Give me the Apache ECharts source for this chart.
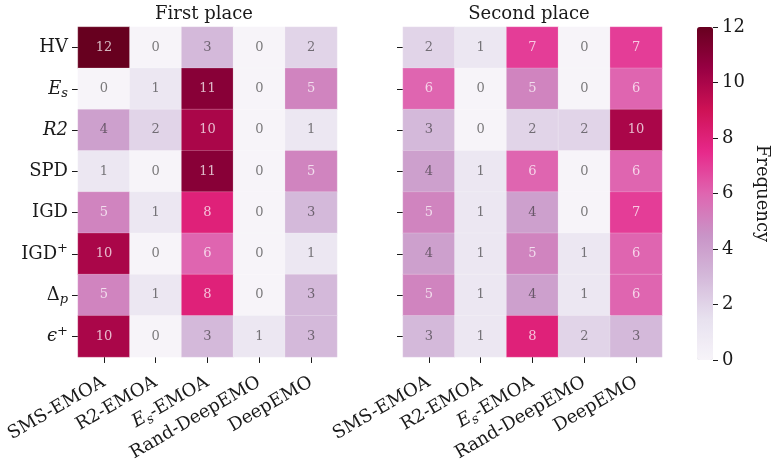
<!DOCTYPE html>
<html>
<head>
<meta charset="utf-8">
<script src="https://cdn.jsdelivr.net/npm/echarts@6/dist/echarts.min.js"></script>
<style>
  html, body { margin: 0; padding: 0; background: #fff; }
  #chart { width: 771px; height: 464px; }
</style>
</head>
<body>
<div id="chart"></div>
<script>
// Algorithms (columns) and quality indicators (rows)
const algorithms = ['SMS-EMOA', 'R2-EMOA', 'Es-EMOA', 'Rand-DeepEMO', 'DeepEMO'];
const indicators = ['HV', 'Es', 'R2', 'SPD', 'IGD', 'IGD+', 'Dp', 'eps+'];

// How often each algorithm ranked first, per indicator (rows follow `indicators`)
const firstPlace = [
  [12, 0, 3, 0, 2],
  [0, 1, 11, 0, 5],
  [4, 2, 10, 0, 1],
  [1, 0, 11, 0, 5],
  [5, 1, 8, 0, 3],
  [10, 0, 6, 0, 1],
  [5, 1, 8, 0, 3],
  [10, 0, 3, 1, 3]
];

// How often each algorithm ranked second, per indicator
const secondPlace = [
  [2, 1, 7, 0, 7],
  [6, 0, 5, 0, 6],
  [3, 0, 2, 2, 10],
  [4, 1, 6, 0, 6],
  [5, 1, 4, 0, 7],
  [4, 1, 5, 1, 6],
  [5, 1, 4, 1, 6],
  [3, 1, 8, 2, 3]
];

const colorbarTicks = [0, 2, 4, 6, 8, 10, 12];
const panelTitles = ['First place', 'Second place'];
const colorbarTitle = 'Frequency';

// PuRd colour ramp, low to high
const puRd = ['#f7f4f9', '#e7e1ef', '#d4b9da', '#c994c7', '#df65b0',
              '#e7298a', '#ce1256', '#980043', '#67001f'];

const FONT = 'DejaVu Serif';
const INK = '#1a1a1a';

// Rich-text markup for the math-style labels
const labelMarkup = {
  'HV': '{n|HV}',
  'Es': '{it|E}{sub|s}',
  'R2': '{it|R}{it|2}',
  'SPD': '{n|SPD}',
  'IGD': '{n|IGD}',
  'IGD+': '{n|IGD}{sup|+}',
  'Dp': '{n|Δ}{sub|p}',
  'eps+': '{it|ϵ}{sup|+}',
  'SMS-EMOA': '{n|SMS-EMOA}',
  'R2-EMOA': '{n|R2-EMOA}',
  'Es-EMOA': '{it|E}{sub|s}{n|-EMOA}',
  'Rand-DeepEMO': '{n|Rand-DeepEMO}',
  'DeepEMO': '{n|DeepEMO}'
};
const rich = {
  n:   { fontFamily: FONT, fontSize: 18, color: INK, lineHeight: 23 },
  it:  { fontFamily: FONT, fontSize: 18, color: INK, fontStyle: 'italic', lineHeight: 23 },
  sub: { fontFamily: FONT, fontSize: 13, color: INK, fontStyle: 'italic', lineHeight: 13, verticalAlign: 'bottom' },
  sup: { fontFamily: FONT, fontSize: 13, color: INK, lineHeight: 13, verticalAlign: 'top' }
};
const fmt = v => labelMarkup[v] || v;

function toCells(matrix) {
  const out = [];
  matrix.forEach((row, r) => row.forEach((v, c) => out.push([c, r, v])));
  return out;
}

const GRID_TOP = 27, GRID_H = 333, CELL_W = 259;
const panelLeft = [78, 403];
const titleCenter = [204, 529];
const BAR_LEFT = 697, BAR_W = 16;

const grids = panelLeft.map(l => ({ left: l, top: GRID_TOP, width: CELL_W, height: GRID_H }));
// Thin grid hugging the right edge of the colour bar; carries its scale
grids.push({ left: BAR_LEFT + BAR_W - 1, top: GRID_TOP, width: 1, height: GRID_H });

const xAxes = panelLeft.map((_, i) => ({
  type: 'category', gridIndex: i, data: algorithms, position: 'bottom',
  axisLine: { show: false },
  axisTick: { show: true, alignWithLabel: true, length: 6, lineStyle: { color: INK, width: 1 } },
  axisLabel: { rotate: 30, margin: 24, formatter: fmt, rich: rich, interval: 0 },
  splitLine: { show: false }
}));
xAxes.push({ type: 'value', gridIndex: 2, show: false, min: 0, max: 1 });

const yAxes = panelLeft.map((_, i) => ({
  type: 'category', gridIndex: i, data: indicators, inverse: true,
  axisLine: { show: false },
  axisTick: { show: true, alignWithLabel: true, length: 6, lineStyle: { color: INK, width: 1 } },
  axisLabel: { show: i === 0, margin: 10, formatter: fmt, rich: rich, interval: 0 },
  splitLine: { show: false }
}));
yAxes.push({
  type: 'value', gridIndex: 2, position: 'right', min: 0, max: 12, interval: 2, z: 10,
  axisLine: { show: false, onZero: false },
  axisTick: { show: true, length: 5, lineStyle: { color: INK, width: 1 } },
  axisLabel: { margin: 9, fontFamily: FONT, fontSize: 18, color: INK,
               formatter: v => colorbarTicks.includes(v) ? String(v) : '' },
  splitLine: { show: false }
});

const series = [firstPlace, secondPlace].map((m, i) => ({
  type: 'heatmap', xAxisIndex: i, yAxisIndex: i,
  data: toCells(m),
  itemStyle: { borderColor: 'rgba(255,255,255,0.35)', borderWidth: 0.6 },
  label: {
    show: true, fontFamily: FONT, fontSize: 13,
    formatter: p => {
      const v = p.value[2];
      return v >= 5 ? '{lt|' + v + '}' : '{dk|' + v + '}';
    },
    rich: {
      lt: { fontFamily: FONT, fontSize: 13, color: 'rgba(255,255,255,0.72)' },
      dk: { fontFamily: FONT, fontSize: 13, color: 'rgba(38,38,38,0.6)' }
    }
  },
  emphasis: { disabled: true }
}));

// Panel titles and the colour-bar caption
const graphics = panelTitles.map((t, i) => ({
  type: 'text', x: titleCenter[i], y: 14,
  style: { text: t, fontFamily: FONT, fontSize: 18, fill: INK, align: 'center', verticalAlign: 'middle' }
}));
graphics.push({
  type: 'text', x: 762, y: GRID_TOP + GRID_H / 2, rotation: -Math.PI / 2,
  style: { text: colorbarTitle, fontFamily: FONT, fontSize: 18, fill: INK, align: 'center', verticalAlign: 'middle' }
});

const chart = echarts.init(document.getElementById('chart'), null, { renderer: 'canvas' });
chart.setOption({
  animation: false,
  backgroundColor: '#ffffff',
  graphic: graphics,
  grid: grids,
  xAxis: xAxes,
  yAxis: yAxes,
  visualMap: {
    type: 'continuous', min: 0, max: 12, seriesIndex: [0, 1],
    calculable: false, realtime: false, orient: 'vertical',
    left: BAR_LEFT, top: GRID_TOP, itemWidth: BAR_W, itemHeight: GRID_H,
    padding: 0, text: null, showLabel: false,
    inRange: { color: puRd },
    hoverLink: false
  },
  series: series
});
</script>
</body>
</html>
